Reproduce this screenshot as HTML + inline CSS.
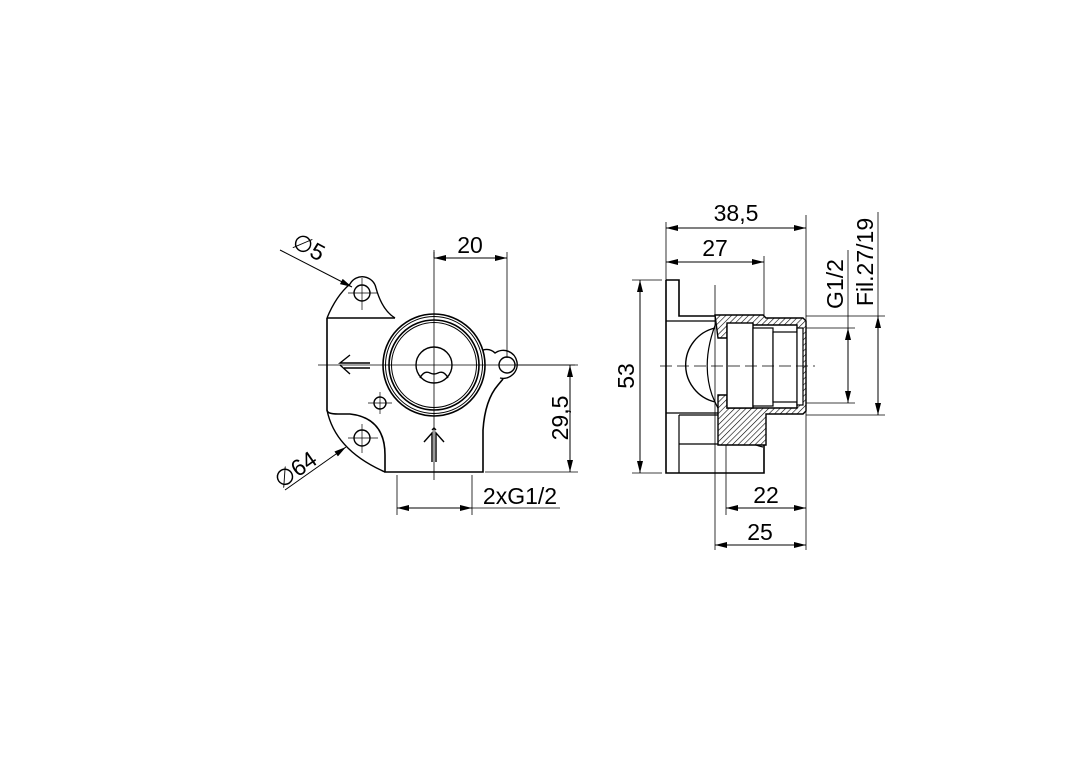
<!DOCTYPE html>
<html><head><meta charset="utf-8"><style>html,body{margin:0;padding:0;background:#fff}svg{display:block}</style></head><body>
<svg width="1080" height="763" viewBox="0 0 1080 763" xmlns="http://www.w3.org/2000/svg" font-family="Liberation Sans, sans-serif">
<defs>
<marker id="a" viewBox="0 0 12 6" refX="12" refY="3" markerWidth="13" markerHeight="6" orient="auto-start-reverse" markerUnits="userSpaceOnUse"><path d="M0,0 L12,3 L0,6z" fill="#000"/></marker>
<pattern id="h" patternUnits="userSpaceOnUse" width="4" height="4" patternTransform="rotate(45)"><rect width="4" height="4" fill="#fff"/><line x1="0" y1="0" x2="0" y2="4" stroke="#000" stroke-width="1.2"/></pattern>
</defs>
<rect width="1080" height="763" fill="#fff"/>
<g stroke="#000" fill="none" stroke-width="1">
<!-- LEFT VIEW -->
<line x1="318" y1="365" x2="575" y2="365" stroke-width="0.8"/>
<line x1="434" y1="250" x2="434" y2="480" stroke-width="0.8"/>
<path d="M327,318 L327,410 Q327,414 338,414 L350,414 Q385,418 385,455 L385,472 L483,472 L483,430 Q485,400 498,385 L503,379" stroke-width="1.6"/>
<path d="M327,318 L395,318" stroke-width="1.6"/>
<path d="M327,318 Q336,296 350,284 A14,14 0 0 1 376,288 Q382,310 395,318" stroke-width="1.4"/>
<path d="M327,410 Q335,450 385,472" stroke-width="1.4"/>
<path d="M483,350 Q490,348 495,353 A14,14 0 1 1 500,378" stroke-width="1.4"/>
<circle cx="362" cy="293" r="8" stroke-width="1.4"/>
<circle cx="507" cy="365" r="8" stroke-width="1.4"/>
<circle cx="362" cy="438" r="8" stroke-width="1.4"/>
<line x1="348" y1="293" x2="378" y2="293" stroke-width="0.7"/><line x1="362" y1="278" x2="362" y2="310" stroke-width="0.7"/>
<line x1="348" y1="438" x2="378" y2="438" stroke-width="0.7"/><line x1="362" y1="424" x2="362" y2="453" stroke-width="0.7"/>
<circle cx="380" cy="403" r="6" stroke-width="1.4"/>
<line x1="368" y1="403" x2="392" y2="403" stroke-width="0.7"/><line x1="380" y1="392" x2="380" y2="414" stroke-width="0.7"/>
<circle cx="434" cy="365" r="51" stroke-width="1.6"/>
<circle cx="434" cy="365" r="48.5" stroke-width="1"/>
<circle cx="434" cy="365" r="45" stroke-width="1.6"/>
<circle cx="434" cy="365" r="42.5" stroke-width="1"/>
<circle cx="434" cy="365" r="18" stroke-width="1.4"/>
<path d="M420,378 Q424,370 430,373 Q434,375 438,373 Q444,370 448,378" stroke-width="1.4"/>
<!-- arrows in view -->
<path d="M370,363 L340,363 L350,355 M340,365 L350,374 M344,368 L370,368" stroke-width="1.4"/>
<path d="M432,462 L432,433 L424,442 M436,462 L436,433 L444,442 M432,430 L434,428 L436,430" stroke-width="1.4"/>
<!-- dims left -->
<line x1="434" y1="252" x2="434" y2="258"/><line x1="507" y1="252" x2="507" y2="358" stroke-width="0.8"/>
<line x1="434" y1="258" x2="507" y2="258" marker-start="url(#a)" marker-end="url(#a)"/>
<line x1="515" y1="365" x2="578" y2="365" stroke-width="0.8"/>
<line x1="485" y1="472" x2="578" y2="472" stroke-width="0.8"/>
<line x1="570" y1="365" x2="570" y2="472" marker-start="url(#a)" marker-end="url(#a)"/>
<line x1="397" y1="475" x2="397" y2="515" stroke-width="0.8"/><line x1="472" y1="475" x2="472" y2="515" stroke-width="0.8"/>
<line x1="397" y1="508" x2="472" y2="508" marker-start="url(#a)" marker-end="url(#a)"/>
<line x1="472" y1="508" x2="560" y2="508" stroke-width="0.8"/>
<line x1="280" y1="250" x2="352" y2="287" marker-end="url(#a)"/>
<line x1="285" y1="490" x2="346" y2="447" marker-end="url(#a)"/>
<!-- RIGHT VIEW -->
<path d="M666,280 L679,280 L679,316 L715,316" stroke-width="1.6"/>
<path d="M666,280 L666,473 L764,473 L764,445" stroke-width="1.6"/>
<line x1="666" y1="321" x2="715" y2="321" stroke-width="1.2"/>
<line x1="666" y1="413" x2="718" y2="413" stroke-width="1.2"/>
<path d="M679,415 L679,473 M679,415 L718,415 M679,444 L764,444" stroke-width="1.2"/>
<path d="M715,328 A38,38 0 0 0 715,402" stroke-width="1.4"/>
<path d="M718,318 Q700,360 712,395 Q730,440 763,447" stroke-width="1.2"/>
<path d="M715,315 L763,315 L766,318 L803,318 L806,321 L806,411 L803,414 L766,414 L766,445 L718,445 L718,395 L727,395 L727,408 L753,408 L753,408 L797,408 L797,325 L753,325 L727,325 L727,338 L718,338 Z" fill="url(#h)" stroke-width="1.4"/>
<rect x="727" y="323" width="26" height="85" fill="#fff" stroke-width="1.4"/>
<rect x="753" y="328" width="20" height="78" fill="#fff" stroke-width="1.2"/>
<rect x="773" y="332" width="24" height="70" fill="#fff" stroke-width="1.2"/>
<rect x="797" y="328" width="6" height="77" fill="#fff" stroke-width="1.2"/>
<line x1="660" y1="366" x2="815" y2="366" stroke-dasharray="12,5" stroke-width="0.8"/>
<!-- dims right -->
<line x1="666" y1="222" x2="666" y2="280" stroke-width="0.8"/>
<line x1="806" y1="215" x2="806" y2="550" stroke-width="0.8"/>
<line x1="764" y1="256" x2="764" y2="316" stroke-width="0.8"/>
<line x1="715" y1="285" x2="715" y2="550" stroke-width="0.8"/>
<line x1="726" y1="445" x2="726" y2="515" stroke-width="0.8"/>
<line x1="666" y1="228" x2="806" y2="228" marker-start="url(#a)" marker-end="url(#a)"/>
<line x1="666" y1="262" x2="764" y2="262" marker-start="url(#a)" marker-end="url(#a)"/>
<line x1="632" y1="280" x2="662" y2="280" stroke-width="0.8"/><line x1="632" y1="473" x2="662" y2="473" stroke-width="0.8"/>
<line x1="640" y1="280" x2="640" y2="473" marker-start="url(#a)" marker-end="url(#a)"/>
<line x1="806" y1="316" x2="885" y2="316" stroke-width="0.8"/>
<line x1="806" y1="415" x2="885" y2="415" stroke-width="0.8"/>
<line x1="806" y1="328" x2="855" y2="328" stroke-width="0.8"/>
<line x1="806" y1="403" x2="855" y2="403" stroke-width="0.8"/>
<line x1="848" y1="328" x2="848" y2="403" marker-start="url(#a)" marker-end="url(#a)"/>
<line x1="848" y1="250" x2="848" y2="328" stroke-width="0.8"/>
<line x1="878" y1="316" x2="878" y2="415" marker-start="url(#a)" marker-end="url(#a)"/>
<line x1="878" y1="212" x2="878" y2="316" stroke-width="0.8"/>
<line x1="726" y1="508" x2="806" y2="508" marker-start="url(#a)" marker-end="url(#a)"/>
<line x1="715" y1="545" x2="806" y2="545" marker-start="url(#a)" marker-end="url(#a)"/>
</g>
<g font-size="23" fill="#000">
<text x="470" y="253" text-anchor="middle">20</text>
<text transform="translate(568,418) rotate(-90)" text-anchor="middle">29,5</text>
<text x="520" y="504" text-anchor="middle">2xG1/2</text>
<text transform="translate(305,254) rotate(28)" text-anchor="middle">∅5</text>
<text transform="translate(300,476) rotate(-35)" text-anchor="middle">∅64</text>
<text x="736" y="221" text-anchor="middle">38,5</text>
<text x="715" y="256" text-anchor="middle">27</text>
<text transform="translate(634,376) rotate(-90)" text-anchor="middle">53</text>
<text transform="translate(843,284) rotate(-90)" text-anchor="middle">G1/2</text>
<text transform="translate(873,262) rotate(-90)" text-anchor="middle">Fil.27/19</text>
<text x="766" y="503" text-anchor="middle">22</text>
<text x="760" y="540" text-anchor="middle">25</text>
</g>
</svg>
</body></html>
